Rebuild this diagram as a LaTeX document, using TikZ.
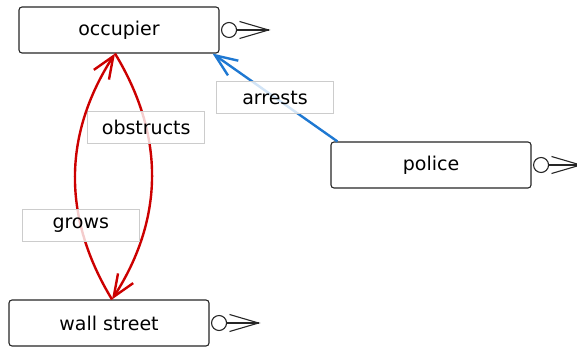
\documentclass[tikz,border=0pt]{standalone}
\usepackage{fontspec}
\setmainfont{DejaVu Sans}
\usetikzlibrary{arrows.meta}

\definecolor{linkred}{RGB}{204,0,0}
\definecolor{linkblue}{RGB}{30,120,210}

\begin{document}
\begin{tikzpicture}[x=1pt,y=1pt,yscale=-1,xscale=1,
    entity/.style={draw=black!85, line width=1.1pt, rounded corners=3pt, fill=white,
      minimum width=200pt, minimum height=46pt, inner sep=0pt, font=\fontsize{19}{22}\selectfont},
    rel/.style={draw=black!20, line width=0.8pt, fill=white, fill opacity=0.8, text opacity=1,
      text=black, minimum width=117pt, minimum height=32pt, inner sep=0pt, font=\fontsize{19}{22}\selectfont},
    barb/.style={-{Straight Barb[length=22pt,width=18pt]}, line width=2.4pt}]
    \useasboundingbox (0,0) rectangle (577,347);

    % Entities
    \node [entity] (occupier) at (119,30) {occupier};
    \node [entity] (police) at (431,165) {police};
    \node [entity] (wallstreet) at (109,323) {wall street};

    % Crow's foot ends
    \foreach \n in {occupier,police,wallstreet}{
      \draw [line width=1.1pt, black!85] ([xshift=9.5pt]\n.east) circle [radius=7.5pt];
      \draw [line width=1.1pt, black!85] ([xshift=17pt]\n.east) -- ([xshift=49pt]\n.east);
      \draw [line width=1.1pt, black!85] ([xshift=20pt,yshift=8.5pt]\n.east) -- ([xshift=49pt]\n.east) -- ([xshift=20pt,yshift=-8.5pt]\n.east);
    }

    % Relations
    \draw [barb, linkred] ([xshift=-4pt]occupier.south) to [bend right=32] node [rel, pos=0.3] (obstructs) {obstructs} ([xshift=3pt]wallstreet.north);
    \draw [barb, linkred] ([xshift=3pt]wallstreet.north) to [bend right=32] node [rel, pos=0.3] (grows) {grows} ([xshift=-4pt]occupier.south);
    \draw [barb, linkblue] ([xshift=7pt]police.north west) -- node [rel] (arrests) {arrests} ([xshift=-7pt]occupier.south east);
\end{tikzpicture}
\end{document}
